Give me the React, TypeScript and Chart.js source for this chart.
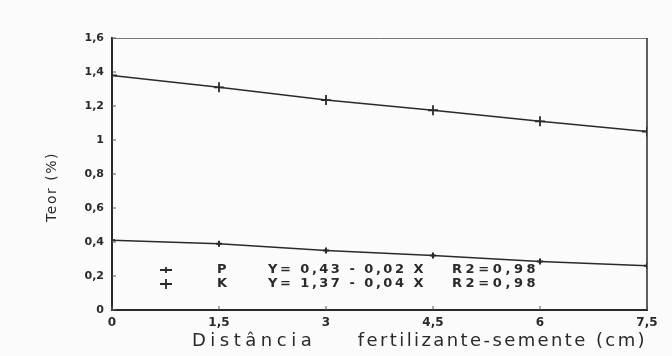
import React, { useEffect, useRef } from "react";
import { Chart, registerables } from "chart.js";

Chart.register(...registerables);

const distances = [0, 1.5, 3, 4.5, 6, 7.5];
const teorP = [0.41, 0.39, 0.35, 0.32, 0.285, 0.26];
const teorK = [1.38, 1.31, 1.235, 1.175, 1.11, 1.05];
const xTicks = [0, 1.5, 3, 4.5, 6, 7.5];
const yTicks = [0, 0.2, 0.4, 0.6, 0.8, 1, 1.2, 1.4, 1.6];
const legendRows = [
  { name: "P", eq: "Y= 0,43 - 0,02 X", r2: "R2=0,98" },
  { name: "K", eq: "Y= 1,37 - 0,04 X", r2: "R2=0,98" },
];
const xTitleA = "Distância";
const xTitleB = "fertilizante-semente (cm)";
const yTitle = "Teor (%)";

const fmt = (v: number) => String(v).replace(".", ",");
const INK = "#2a2a2a";

const decor = {
  id: "decor",
  afterDraw(chart: any) {
    const ctx = chart.ctx as CanvasRenderingContext2D;
    const { left, right, top, bottom } = chart.chartArea;
    const xs = chart.scales.x;
    const ys = chart.scales.y;
    ctx.save();
    // frame top & right
    ctx.strokeStyle = "#777";
    ctx.lineWidth = 1;
    ctx.beginPath();
    ctx.moveTo(left, top + 0.5);
    ctx.lineTo(right, top + 0.5);
    ctx.stroke();
    ctx.strokeStyle = INK;
    ctx.lineWidth = 1.5;
    ctx.beginPath();
    ctx.moveTo(right, top);
    ctx.lineTo(right, bottom);
    ctx.stroke();
    // inner ticks
    ctx.lineWidth = 1;
    ctx.strokeStyle = "#555";
    yTicks.forEach((v) => {
      const y = ys.getPixelForValue(v);
      ctx.beginPath();
      ctx.moveTo(left, y);
      ctx.lineTo(left + 4, y);
      ctx.stroke();
    });
    xTicks.forEach((v) => {
      const x = xs.getPixelForValue(v);
      ctx.beginPath();
      ctx.moveTo(x, bottom);
      ctx.lineTo(x, bottom - 4);
      ctx.stroke();
    });
    // legend
    ctx.fillStyle = INK;
    ctx.strokeStyle = INK;
    ctx.textBaseline = "middle";
    legendRows.forEach((r, i) => {
      const y = 270 + i * 14;
      ctx.lineWidth = 1.8;
      ctx.beginPath();
      ctx.moveTo(160, y);
      ctx.lineTo(172, y);
      const h = i === 0 ? 3 : 5;
      ctx.moveTo(166, y - h);
      ctx.lineTo(166, y + h);
      ctx.stroke();
      ctx.textAlign = "left";
      ctx.font = "bold 13px 'DejaVu Sans'";
      (ctx as any).letterSpacing = "1.5px";
      ctx.fillText(r.name, 217, y);
      (ctx as any).letterSpacing = "2.5px";
      ctx.fillText(r.eq, 268, y);
      (ctx as any).letterSpacing = "3.6px";
      ctx.fillText(r.r2, 452, y);
    });
    // titles
    ctx.font = "18px 'DejaVu Sans'";
    (ctx as any).letterSpacing = "4.5px";
    ctx.textAlign = "left";
    ctx.fillText(xTitleA, 192, 341);
    (ctx as any).letterSpacing = "2.4px";
    ctx.textAlign = "right";
    ctx.fillText(xTitleB, 647, 341);
    ctx.save();
    ctx.translate(52, 187);
    ctx.rotate(-Math.PI / 2);
    ctx.textAlign = "center";
    ctx.font = "14px 'DejaVu Sans'";
    (ctx as any).letterSpacing = "1.5px";
    ctx.fillText(yTitle, 0, 0);
    ctx.restore();
    ctx.restore();
  },
};

export default function App() {
  const ref = useRef<HTMLCanvasElement>(null);
  useEffect(() => {
    document.body.style.margin = "0";
    const chart = new Chart(ref.current!, {
      type: "line",
      data: {
        datasets: [
          {
            label: "P",
            data: distances.map((x, i) => ({ x, y: teorP[i] })),
            borderColor: INK,
            borderWidth: 1.5,
            pointStyle: "cross",
            pointRadius: 3,
            pointBorderWidth: 2,
            pointBorderColor: INK,
            tension: 0,
          },
          {
            label: "K",
            data: distances.map((x, i) => ({ x, y: teorK[i] })),
            borderColor: INK,
            borderWidth: 1.5,
            pointStyle: "cross",
            pointRadius: 5,
            pointBorderWidth: 1.8,
            pointBorderColor: INK,
            tension: 0,
          },
        ],
      },
      options: {
        animation: false,
        responsive: false,
        maintainAspectRatio: false,
        layout: { padding: { top: 38, right: 25, left: 0, bottom: 0 } },
        plugins: { legend: { display: false }, tooltip: { enabled: false } },
        scales: {
          x: {
            type: "linear",
            min: 0,
            max: 7.5,
            afterBuildTicks: (s: any) => {
              s.ticks = xTicks.map((v) => ({ value: v }));
            },
            afterFit: (s: any) => {
              s.height = 46;
            },
            grid: { display: false, drawTicks: false },
            border: { color: INK, width: 2 },
            ticks: {
              color: INK,
              padding: 6,
              font: { family: "DejaVu Sans", size: 12, weight: "bold" },
              callback: (v: any) => fmt(v),
              maxRotation: 0,
              autoSkip: false,
            },
          },
          y: {
            min: 0,
            max: 1.6,
            afterBuildTicks: (s: any) => {
              s.ticks = yTicks.map((v) => ({ value: v }));
            },
            afterFit: (s: any) => {
              s.width = 112;
            },
            grid: { display: false, drawTicks: false },
            border: { color: INK, width: 2 },
            ticks: {
              color: INK,
              padding: 8,
              font: { family: "DejaVu Sans", size: 11, weight: "bold" },
              callback: (v: any) => fmt(Math.round(v * 10) / 10),
            },
          },
        },
      },
      plugins: [decor],
    });
    return () => chart.destroy();
  }, []);
  return (
    <div style={{ width: 672, height: 356, background: "#fbfbfb" }}>
      <canvas ref={ref} width={672} height={356} />
    </div>
  );
}
